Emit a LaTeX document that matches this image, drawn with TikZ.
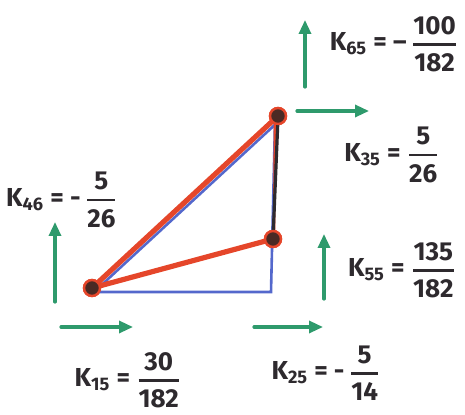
\documentclass[tikz,border=0pt]{standalone}
\usepackage{amsmath}
\usepackage{fontspec}
\setmainfont{Fira Sans}
\usetikzlibrary{arrows.meta}
\definecolor{redl}{HTML}{E5462A}
\definecolor{bluel}{HTML}{5468CC}
\definecolor{greenl}{HTML}{2E9A6C}
\definecolor{ink}{HTML}{2E2A2E}
\definecolor{jointc}{HTML}{4A2A24}
\newcommand{\kfrac}[2]{$\genfrac{}{}{1.3pt}{0}{\text{#1}}{\text{#2}}$}
\tikzset{
  joint/.style={circle,fill=jointc,draw=redl,line width=1.2pt,inner sep=0pt,minimum size=8pt},
  redbar/.style={draw=redl,line width=2.6pt,line cap=round},
  bluebar/.style={draw=bluel,line width=1.3pt,line cap=round},
  darkbar/.style={draw=ink,line width=1.6pt,line cap=round},
  garrow/.style={draw=greenl,line width=1.6pt,line cap=round,-{Triangle[length=7pt,width=6pt]}},
  klabel/.style={text=ink,font=\fontsize{13}{15}\selectfont\bfseries,inner sep=0pt}
}
\begin{document}
\begin{tikzpicture}[x=0.5pt,y=-0.5pt]
\useasboundingbox (0,0) rectangle (465,415);
% blue truss (underneath)
\coordinate (D) at (271,292);
\coordinate (Ao) at (94,292);
\node[joint] (A) at (92,288) {};
\node[joint] (B) at (278,116) {};
\node[joint] (C) at (273,239) {};
\draw[bluebar] (Ao) -- (D) -- (275,122);
\draw[bluebar] (95,291) -- (279,121);
% red and dark members
\draw[redbar] (A) -- (B);
\draw[redbar] (A) -- (C);
\draw[redl,line width=1.2pt] (275,118) -- (274,238);
\draw[darkbar] (B.center) ++(0,2) -- (C.center);
\node[joint] at (A) {};
\node[joint] at (B) {};
\node[joint] at (C) {};
% green force arrows
\coordinate (g1a) at (305,87);  \coordinate (g1b) at (305,20);
\coordinate (g2a) at (297,111); \coordinate (g2b) at (369,111);
\coordinate (g3a) at (55,302);  \coordinate (g3b) at (55,222);
\coordinate (g4a) at (61,327);  \coordinate (g4b) at (133,327);
\coordinate (g5a) at (324,299); \coordinate (g5b) at (324,234);
\coordinate (g6a) at (254,327); \coordinate (g6b) at (323,327);
\draw[garrow] (g1a) -- (g1b);
\draw[garrow] (g2a) -- (g2b);
\draw[garrow] (g3a) -- (g3b);
\draw[garrow] (g4a) -- (g4b);
\draw[garrow] (g5a) -- (g5b);
\draw[garrow] (g6a) -- (g6b);
% labels
\node[klabel] (k65) at (394,44) {K\textsubscript{65} = –\,\kfrac{100}{182}};
\node[klabel] (k35) at (392,155) {K\textsubscript{35} = \kfrac{5}{26}};
\node[klabel] (k46) at (62,200) {K\textsubscript{46} = -\,\kfrac{5}{26}};
\node[klabel] (k55) at (402,270) {K\textsubscript{55} = \kfrac{135}{182}};
\node[klabel] (k15) at (128,380) {K\textsubscript{15} = \kfrac{30}{182}};
\node[klabel] (k25) at (326,373) {K\textsubscript{25} = -\,\kfrac{5}{14}};
\end{tikzpicture}
\end{document}
